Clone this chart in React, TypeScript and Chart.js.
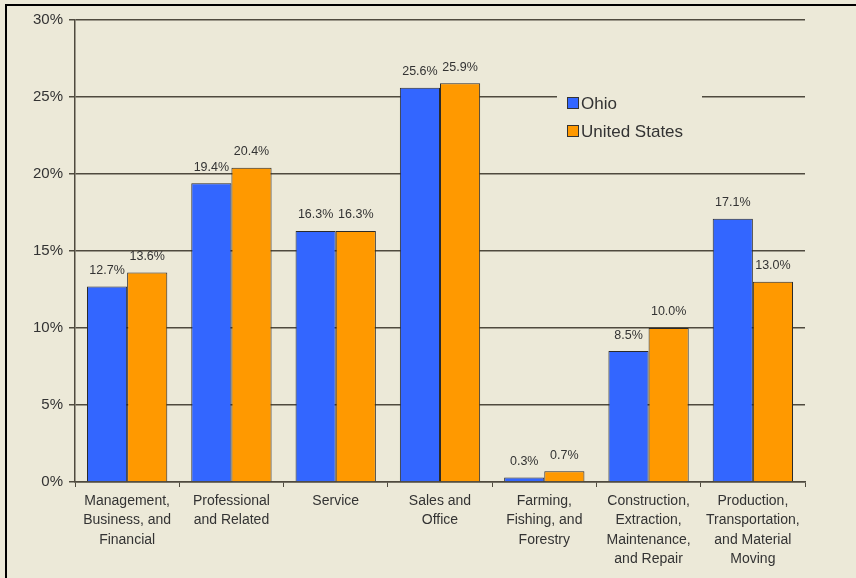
import React, { useEffect, useRef } from "react";
import { Chart, registerables } from "chart.js";

Chart.register(...registerables);

const categories: string[][] = [
  ["Management,", "Business, and", "Financial"],
  ["Professional", "and Related"],
  ["Service"],
  ["Sales and", "Office"],
  ["Farming,", "Fishing, and", "Forestry"],
  ["Construction,", "Extraction,", "Maintenance,", "and Repair"],
  ["Production,", "Transportation,", "and Material", "Moving"],
];
const ohio = [12.7, 19.4, 16.3, 25.6, 0.3, 8.5, 17.1];
const unitedStates = [13.6, 20.4, 16.3, 25.9, 0.7, 10.0, 13.0];
const seriesNames = ["Ohio", "United States"];
const seriesColors = ["#3366FF", "#FF9900"];
const yTicksMax = 30;
const yStep = 5;

const BG = "#ECE9D8";
const GRID = "#4f4a3e";
const TEXT = "#333333";

export default function App() {
  const ref = useRef<HTMLCanvasElement | null>(null);

  useEffect(() => {
    document.body.style.margin = "0";
    const canvas = ref.current!;
    const framePlugin = {
      id: "frame",
      beforeDraw(chart: any) {
        const ctx = chart.ctx;
        ctx.save();
        ctx.fillStyle = BG;
        ctx.fillRect(0, 0, chart.width, chart.height);
        ctx.fillStyle = "#000";
        ctx.fillRect(5, 4, chart.width - 5, 2);
        ctx.fillRect(5, 4, 2, chart.height - 4);
        ctx.restore();
      },
    };
    const labelPlugin = {
      id: "valueLabels",
      afterDatasetsDraw(chart: any) {
        const ctx = chart.ctx;
        ctx.save();
        ctx.font = "12.5px 'Liberation Sans', Arial, sans-serif";
        ctx.fillStyle = TEXT;
        ctx.textAlign = "center";
        ctx.textBaseline = "middle";
        chart.data.datasets.forEach((ds: any, i: number) => {
          const meta = chart.getDatasetMeta(i);
          meta.data.forEach((el: any, j: number) => {
            ctx.fillText(ds.data[j].toFixed(1) + "%", el.x, el.y - 16);
          });
        });
        ctx.restore();
      },
    };
    const legendPlugin = {
      id: "customLegend",
      afterDraw(chart: any) {
        const ctx = chart.ctx;
        ctx.save();
        ctx.fillStyle = BG;
        ctx.fillRect(557, 86, 145, 58);
        ctx.font = "17px 'Liberation Sans', Arial, sans-serif";
        ctx.textBaseline = "middle";
        ctx.textAlign = "left";
        seriesNames.forEach((name, i) => {
          const y = 103 + i * 28;
          ctx.fillStyle = seriesColors[i];
          ctx.fillRect(567, y - 6, 12, 12);
          ctx.strokeStyle = "#333";
          ctx.lineWidth = 1;
          ctx.strokeRect(567.5, y - 5.5, 11, 11);
          ctx.fillStyle = TEXT;
          ctx.fillText(name, 581, y + 1);
        });
        ctx.restore();
      },
    };

    const chart = new Chart(canvas, {
      type: "bar",
      data: {
        labels: categories,
        datasets: [
          {
            label: seriesNames[0],
            data: ohio,
            backgroundColor: seriesColors[0],
            borderColor: "#2a2a2a",
            borderWidth: 1,
            categoryPercentage: 0.77,
            barPercentage: 1,
          },
          {
            label: seriesNames[1],
            data: unitedStates,
            backgroundColor: seriesColors[1],
            borderColor: "#2a2a2a",
            borderWidth: 1,
            categoryPercentage: 0.77,
            barPercentage: 1,
          },
        ],
      },
      options: {
        animation: false,
        responsive: false,
        maintainAspectRatio: false,
        layout: { padding: { top: 20, right: 51, bottom: 0, left: 0 } },
        plugins: {
          legend: { display: false },
          tooltip: { enabled: false },
        },
        scales: {
          x: {
            offset: true,
            grid: {
              display: true,
              drawOnChartArea: false,
              drawTicks: true,
              tickLength: 5,
              color: GRID,
              offset: true,
            },
            border: { display: true, color: GRID, width: 1.5 },
            ticks: {
              color: TEXT,
              font: { family: "'Liberation Sans', Arial, sans-serif", size: 14, lineHeight: 1.4 },
              padding: 4,
              maxRotation: 0,
              autoSkip: false,
            },
            afterFit(scale: any) {
              scale.height = 96;
            },
          },
          y: {
            min: 0,
            max: yTicksMax,
            ticks: {
              stepSize: yStep,
              color: TEXT,
              font: { family: "'Liberation Sans', Arial, sans-serif", size: 15 },
              padding: 6,
              callback: (v: any) => v + "%",
            },
            grid: {
              color: GRID,
              lineWidth: 1.5,
              tickLength: 6,
            },
            border: { display: true, color: GRID, width: 1.5 },
            afterFit(scale: any) {
              scale.width = 75;
            },
          },
        },
      },
      plugins: [framePlugin, labelPlugin, legendPlugin],
    });
    return () => chart.destroy();
  }, []);

  return (
    <div style={{ width: 856, height: 578, position: "relative" }}>
      <canvas ref={ref} width={856} height={578} style={{ display: "block" }} />
    </div>
  );
}
